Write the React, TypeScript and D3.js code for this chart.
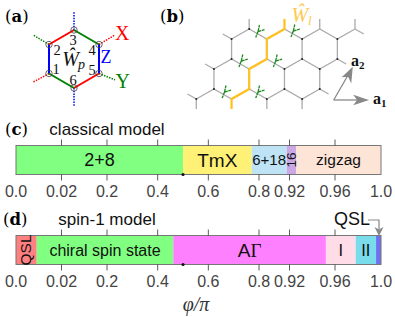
import React from "react";
import * as d3 from "d3";

// phase diagram values, phi/pi
const tickValues = [0, 0.02, 0.2, 0.4, 0.6, 0.8, 0.92, 0.96, 1.0];
const tickLabels = ["0.0", "0.02", "0.2", "0.4", "0.6", "0.8", "0.92", "0.96", "1.0"];
const classicalNames = ["2+8", "TmX", "6+18", "16", "zigzag"];
const classicalEdges = [0, 0.5, 0.771, 0.909, 0.9257, 1.0];
const classicalColors = ["#80ff80", "#fff176", "#bde3f5", "#c9a8e4", "#fce4d6"];
const spinNames = ["QSL", "chiral spin state", "A\u0393", "I", "II", ""];
const spinEdges = [0, 0.0091, 0.4617, 0.952, 0.978, 0.9957, 1.0];
const spinColors = ["#ff8080", "#80ff80", "#ff80ff", "#ffdce8", "#78dcea", "#7070f0"];

// honeycomb in lattice units: column (half a hexagon wide), level
const greyZigzags = [
  [[2, 1], [3, 0], [4, 1], [5, 0], [6, 1], [7, 0], [8, 1], [9, 0]],
  [[1, 4], [2, 3], [3, 4], [4, 3], [5, 4], [6, 3], [7, 4], [8, 3]],
  [[0, 7], [1, 6], [2, 7], [3, 6], [4, 7], [5, 6], [6, 7], [7, 6]],
];
const greyBonds = [
  [[2, 1], [2, 3]], [[4, 1], [4, 3]], [[6, 1], [6, 3]], [[8, 1], [8, 3]],
  [[1, 4], [1, 6]], [[3, 4], [3, 6]], [[5, 4], [5, 6]], [[7, 4], [7, 6]],
  [[4, 7], [4, 8]], [[6, 7], [6, 8]], [[0, 7], [0, 8]],
  [[3, 0], [3, -1]], [[7, 0], [7, -1]], [[9, 0], [9, -1]],
  [[2, 1], [1.5, 0.5]], [[8, 3], [8.5, 3.5]], [[1, 4], [0.5, 3.5]],
  [[7, 6], [7.5, 6.5]], [[0, 7], [-0.5, 6.5]], [[9, 0], [9.5, 0.5]],
];
const wilsonLine = [[5, -1], [5, 0], [4, 1], [4, 3], [3, 4], [3, 6], [2, 7], [2, 8]];
const forkSites = [[3.5, 0.25], [5.5, 0.2], [2.55, 3.2], [4.5, 3.2], [1.6, 6.3], [3.5, 6.3]];
const nodeSites = [
  [3, 0], [2, 1], [4, 1], [6, 1], [8, 1], [1, 4], [2, 3], [4, 3], [6, 3], [8, 3],
  [3, 4], [5, 4], [7, 4], [0, 7], [1, 6], [3, 6], [5, 6], [7, 6], [4, 7], [6, 7],
];

// plaquette in panel (a), site order 1..6
const plaquette = [[-1, 0.5], [-1, -0.5], [0, -1], [1, -0.5], [1, 0.5], [0, 1]];
const bondColors = ["#0000ff", "#ff0000", "#008000", "#0000ff", "#ff0000", "#008000"];
const legOuter = [[-1.64, 0.8], [-1.64, -0.83], [0, -1.62], [1.64, -0.83], [1.64, 0.72], [0, 1.62]];
const legColors = ["#ff0000", "#008000", "#0000ff", "#ff0000", "#008000", "#0000ff"];

const x = d3
  .scaleLinear()
  .domain([0, 0.02, 0.2, 0.8, 0.92, 0.96, 1.0])
  .range([16, 61.5, 107, 259, 289.5, 335, 381]);

const latX = d3.scaleLinear().domain([0, 9]).range([196.3, 355]);
const latY = d3.scaleLinear().domain([0, 8]).range([29, 109]);
const latLine = d3.line<number[]>().x(d => latX(d[0])).y(d => latY(d[1]));

const hexX = d3.scaleLinear().domain([-1, 1]).range([49, 99]);
const hexY = d3.scaleLinear().domain([-1, 1]).range([30, 88]);

const SANS = "'Liberation Sans', Arial, sans-serif";
const SERIF = "'DejaVu Serif', 'Liberation Serif', serif";
const TEXT = "'Liberation Serif', serif";

const sizeOf: Record<string, number> = {
  "2+8": 18,
  TmX: 19,
  "6+18": 15,
  zigzag: 15.5,
  "chiral spin state": 16,
  "A\u0393": 19,
  I: 16.5,
  II: 16.5,
};

function Bar({ top, edges, colors, names }: any) {
  const height = 29;
  return (
    <g>
      {colors.map((c: string, i: number) => (
        <rect key={i} x={x(edges[i])} y={top} width={x(edges[i + 1]) - x(edges[i])} height={height} fill={c} />
      ))}
      <rect x={16} y={top} width={365} height={height} fill="none" stroke="#777" strokeWidth={1} />
      {tickValues.slice(1, -1).map((t, i) => (
        <g key={i} stroke="#333" strokeWidth={0.8}>
          <line x1={x(t)} x2={x(t)} y1={top - 6} y2={top} />
          <line x1={x(t)} x2={x(t)} y1={top + height} y2={top + height + 6} />
        </g>
      ))}
      <circle cx={x(0.5)} cy={top + height} r={1.6} fill="#111" />
      {tickValues.map((t, i) => (
        <text key={i} x={x(t)} y={top + height + 22.5} textAnchor="middle" fontSize={16} fill="#444" fontFamily={SANS}>
          {tickLabels[i]}
        </text>
      ))}
      {names.map((n: string, i: number) => {
        const mid = (x(edges[i]) + x(edges[i + 1])) / 2;
        const cy = top + height / 2;
        if (n === "16" || n === "QSL") {
          return (
            <text key={i} transform={`translate(${mid + 5},${cy}) rotate(-90)`} textAnchor="middle" fontSize={n === "QSL" ? 15.5 : 13.5} fill="#111" fontFamily={SANS}>
              {n}
            </text>
          );
        }
        const size = sizeOf[n] ?? 16;
        return (
          <text key={i} x={mid} y={cy + size * 0.35} textAnchor="middle" fontSize={size} fill="#111" fontFamily={SANS}>
            {n === "A\u0393" ? (
              <>
                A<tspan fontFamily={TEXT}>{"\u0393"}</tspan>
              </>
            ) : (
              n
            )}
          </text>
        );
      })}
    </g>
  );
}

const siteLabelX = [56, 57, 73, 92, 92, 73];
const siteLabelY = [74, 55, 45, 55, 75, 85];

function PanelA() {
  const px = (d: number[]) => hexX(d[0]);
  const py = (d: number[]) => hexY(d[1]);
  return (
    <g>
      {plaquette.map((p, i) => (
        <line key={i} x1={px(p)} y1={py(p)} x2={px(legOuter[i])} y2={py(legOuter[i])} stroke={legColors[i]} strokeWidth={1.5} strokeDasharray="1.5 1.2" />
      ))}
      {plaquette.map((p, i) => {
        const q = plaquette[(i + 1) % 6];
        return <line key={i} x1={px(p)} y1={py(p)} x2={px(q)} y2={py(q)} stroke={bondColors[i]} strokeWidth={2} />;
      })}
      {plaquette.map((p, i) => (
        <circle key={i} cx={px(p)} cy={py(p)} r={3.2} fill="none" stroke="#444" strokeWidth={0.8} />
      ))}
      {plaquette.map((p, i) => (
        <text key={i} x={siteLabelX[i]} y={siteLabelY[i]} textAnchor="middle" fontSize={14.5} fontFamily={TEXT} fill="#111">
          {i + 1}
        </text>
      ))}
      <text x={70.5} y={66} textAnchor="middle" fontSize={20} fontFamily={TEXT} fontStyle="italic" fill="#111">
        {"W\u0302"}
      </text>
      <text x={81.5} y={69} textAnchor="middle" fontSize={14} fontFamily={TEXT} fontStyle="italic" fill="#111">p</text>
      <text x={115} y={40} fontSize={20} fontFamily={TEXT} fill="#ff0000">X</text>
      <text x={100.5} y={63} fontSize={18} fontFamily={TEXT} fill="#0000ff">Z</text>
      <text x={115.5} y={88} fontSize={20} fontFamily={TEXT} fill="#008000">Y</text>
    </g>
  );
}

function PanelB() {
  return (
    <g>
      <g fill="none" stroke="#aaa" strokeWidth={1.3}>
        {greyZigzags.map((z, i) => <path key={i} d={latLine(z as any) ?? ""} />)}
        {greyBonds.map((b, i) => <path key={i} d={latLine(b as any) ?? ""} />)}
      </g>
      {nodeSites.map((n, i) => <circle key={i} cx={latX(n[0])} cy={latY(n[1])} r={1} fill="#222" />)}
      <path d={latLine(wilsonLine as any) ?? ""} fill="none" stroke="#ffc020" strokeWidth={2.2} />
      {forkSites.map((f, i) => {
        const cx = latX(f[0]);
        const cy = latY(f[1]);
        return (
          <g key={i} transform={`translate(${cx},${cy})`} stroke="#1f8a1f" strokeWidth={1.3} fill="none">
            <path d="M0,0 L-2.3,6 M0,0 L1.5,-6.5 M0,0 L6.5,-1.8" strokeDasharray="3.4 0.6" />
          </g>
        );
      })}
      <text x={291.5} y={22} fontSize={20} fontFamily={TEXT} fontStyle="italic" fill="#ffc94d">
        {"W\u0302"}
      </text>
      <text x={308} y={25} fontSize={13} fontFamily={TEXT} fontStyle="italic" fill="#ffc94d">l</text>
      <g stroke="#888" strokeWidth={1.3} fill="#888">
        <line x1={333.7} y1={100} x2={365} y2={100} />
        <line x1={333.7} y1={100} x2={351} y2={70} />
        <path d="M367,100 L355,96 L358,100 L355,104 Z" />
        <path d="M352,68.5 L350.8,81 L348.5,76 L343.5,76.5 Z" />
      </g>
      <text x={351} y={66} fontSize={16} fontWeight="bold" fontFamily={TEXT} fill="#111">a<tspan fontSize={11} dy={3}>2</tspan></text>
      <text x={373} y={104} fontSize={16} fontWeight="bold" fontFamily={TEXT} fill="#111">a<tspan fontSize={11} dy={3}>1</tspan></text>
    </g>
  );
}

const panelLabel = (s: string, lx: number, ly: number) => (
  <text x={lx} y={ly} fontSize={16.5} fontFamily={SERIF}>
    <tspan>(</tspan>
    <tspan fontWeight="bold">{s}</tspan>
    <tspan>)</tspan>
  </text>
);

export default function App() {
  return (
    <svg width={395} height={317} style={{ position: "absolute", left: 0, top: 0, background: "#fff" }}>
      {panelLabel("a", 5, 22)}
      {panelLabel("b", 160, 22)}
      {panelLabel("c", 5, 135)}
      {panelLabel("d", 3, 225)}
      <PanelA />
      <PanelB />
      <text x={107} y={135} textAnchor="middle" fontSize={17} fontFamily={SANS} fill="#111">classical model</text>
      <Bar top={145.5} edges={classicalEdges} colors={classicalColors} names={classicalNames} />
      <text x={107} y={225} textAnchor="middle" fontSize={17} fontFamily={SANS} fill="#111">spin-1 model</text>
      <Bar top={235.5} edges={spinEdges} colors={spinColors} names={spinNames} />
      <text x={334} y={225} fontSize={18} fontFamily={SANS} fill="#111">QSL</text>
      <path d="M368,220 H379 V232" fill="none" stroke="#888" strokeWidth={1.2} />
      <path d="M379,236 L374.5,227 L379,229.5 L383.5,227 Z" fill="#888" />
      <text x={196} y={311} textAnchor="middle" fontSize={20} fontFamily={TEXT} fontStyle="italic" fill="#333">
        {"\u03C6/\u03C0"}
      </text>
    </svg>
  );
}
